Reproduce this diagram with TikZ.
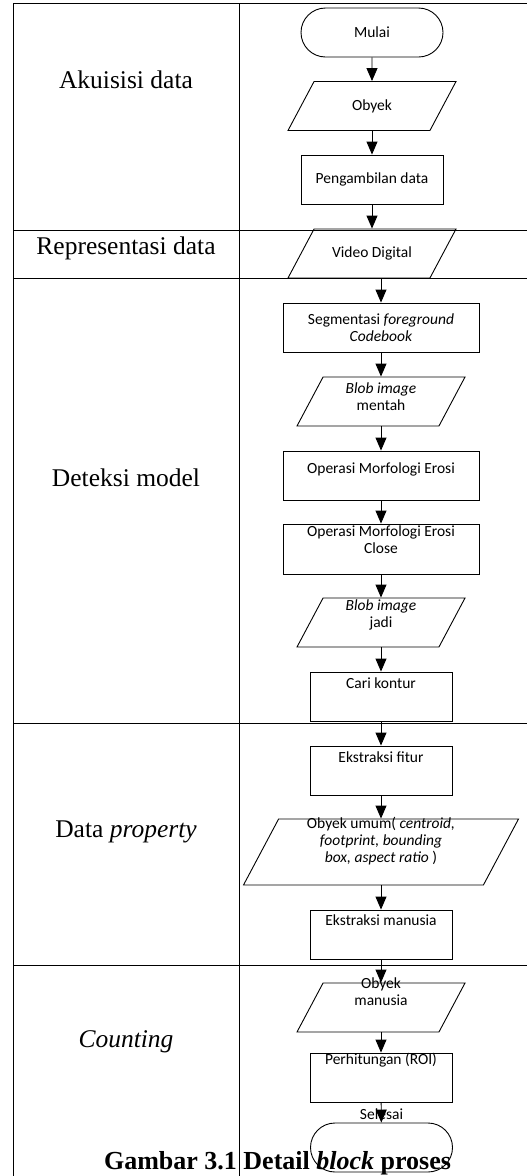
\documentclass[tikz,border=0pt]{standalone}
\usepackage{fontspec}
\setmainfont{Liberation Serif}
\newfontfamily\chartfont{Carlito}
\usetikzlibrary{arrows.meta,positioning,shapes.geometric,shapes.misc}

\tikzset{
    proses/.style={draw=black, line width=0.9pt, minimum width=142pt, minimum height=49pt,
        inner sep=0pt, align=center, font=\chartfont\fontsize{15.5}{17}\selectfont},
    lebar/.style={proses, minimum width=196pt},
    terminal/.style={proses, rounded rectangle},
    io/.style={draw=black, line width=0.9pt, trapezium, trapezium left angle=62, trapezium right angle=118,
        trapezium stretches body=true, inner xsep=0pt, inner ysep=24.5pt, minimum width=168pt, minimum height=49pt},
    teks/.style={inner sep=0pt, align=center, font=\chartfont\fontsize{15.5}{17}\selectfont},
    lajur/.style={anchor=base, font=\fontsize{25.5}{30}\selectfont},
    panah/.style={line width=0.9pt, -{Triangle[length=13pt,width=11pt]}},
    garis/.style={line width=0.8pt}
}

\begin{document}
\begin{tikzpicture}[x=1pt, y=-1pt]
    \useasboundingbox (0,0) rectangle (527,1176);

    % tabel
    \draw[garis] (13,1176) |- (527,3);
    \draw[garis] (239,3) -- (239,1176);
    \draw[garis] (13,230) -- (527,230);
    \draw[garis] (13,278) -- (527,278);
    \draw[garis] (13,723) -- (527,723);
    \draw[garis] (13,965) -- (527,965);

    % kolom kiri
    \node[lajur] (akuisisi) at (126,88) {Akuisisi data};
    \node[lajur] (representasi) at (126,254) {Representasi data};
    \node[lajur] (deteksi) at (126,486) {Deteksi model};
    \node[lajur] (property) at (126,837) {Data \textit{property}};
    \node[lajur] (counting) at (126,1047) {\textit{Counting}};

    % alur
    \node[terminal] (mulai) at (372,32.5) {Mulai};
    \node[io] (obyek) at (372,106) {};
    \node[teks] (obyek-t) at (obyek) {Obyek};
    \node[proses] (ambil) at (372,179.5) {Pengambilan data};
    \node[io] (video) at (372,253.5) {};
    \node[teks] (video-t) at (video) {Video Digital};
    \node[lebar] (segmen) at (381,327.5) {Segmentasi \textit{foreground}\\\textit{Codebook}};
    \node[io] (mentah) at (381,401.5) {};
    \node[teks, below=6pt of mentah.north] (mentah-t) {\textit{Blob image}\\mentah};
    \node[lebar] (erosi) at (381,475.5) {};
    \node[teks, below=12pt of erosi.north] (erosi-t) {Operasi Morfologi Erosi};
    \node[lebar, minimum height=50pt] (close) at (381,549) {};
    \node[teks, below=2pt of close.north] (close-t) {Operasi Morfologi Erosi\\Close};
    \node[io] (jadi) at (381,622.5) {};
    \node[teks, below=2pt of jadi.north] (jadi-t) {\textit{Blob image}\\jadi};
    \node[proses] (kontur) at (381,696.5) {};
    \node[teks, below=6pt of kontur.north] (kontur-t) {Cari kontur};
    \node[proses] (fitur) at (381,770.5) {};
    \node[teks, below=6pt of fitur.north] (fitur-t) {Ekstraksi fitur};
    \node[io, inner ysep=33pt, minimum width=275pt, minimum height=66pt] (umum) at (381,852) {};
    \node[teks, below=-2pt of umum.north] (umum-t) {Obyek umum( \textit{centroid,}\\\textit{footprint, bounding}\\\textit{box, aspect ratio} )};
    \node[proses] (manusia) at (381,934.5) {};
    \node[teks, below=5pt of manusia.north] (manusia-t) {Ekstraksi manusia};
    \node[io] (omanusia) at (381,1007.5) {};
    \node[teks, below=-5pt of omanusia.north] (omanusia-t) {Obyek\\manusia};
    \node[proses] (hitung) at (381,1077.5) {};
    \node[teks, below=0pt of hitung.north] (hitung-t) {Perhitungan (ROI)};
    \node[terminal, label={[teks, inner sep=3pt]above:Selesai}] (selesai) at (381.5,1147.5) {};

    \draw[panah] (mulai) -- (obyek);
    \draw[panah] (obyek) -- (ambil);
    \draw[panah] (ambil) -- (video);
    \draw[panah] (video.south -| segmen.north) -- (segmen);
    \draw[panah] (segmen) -- (mentah);
    \draw[panah] (mentah) -- (erosi);
    \draw[panah] (erosi) -- (close);
    \draw[panah] (close) -- (jadi);
    \draw[panah] (jadi) -- (kontur);
    \draw[panah] (kontur) -- (fitur);
    \draw[panah] (fitur) -- (umum);
    \draw[panah] (umum) -- (manusia);
    \draw[panah] (manusia) -- (omanusia);
    \draw[panah] (omanusia) -- (hitung);
    \draw[panah] (hitung) -- (selesai);

    % keterangan
    \node[anchor=base, font=\bfseries\fontsize{26}{30}\selectfont] (judul) at (277.5,1169) {Gambar 3.1 Detail \textit{block} proses};
\end{tikzpicture}
\end{document}
